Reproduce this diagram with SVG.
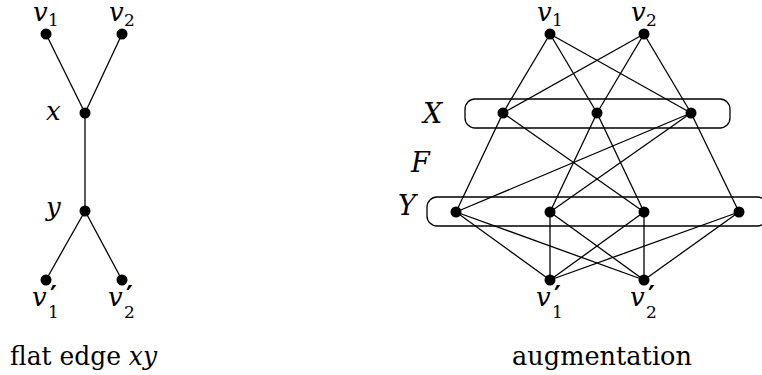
<svg xmlns="http://www.w3.org/2000/svg" width="762" height="375" viewBox="0 0 762 375">
<style>
.e{stroke:#000;stroke-width:1.3;fill:none}
.n{fill:#000}
.box{fill:none;stroke:#000;stroke-width:1.3}
.m{font-family:'DejaVu Serif',serif;font-style:italic;font-size:26px}
.s{font-family:'DejaVu Serif',serif;font-size:17px}
.p{font-family:'DejaVu Sans',sans-serif;font-size:26px;font-weight:bold}
.c{font-family:'DejaVu Serif',serif;font-style:italic;font-size:27px}
.cap{font-family:'DejaVu Serif',serif;font-size:26px}
</style>
<rect width="762" height="375" fill="#fff"/>
<g id="sets">
<rect class="box" x="465" y="99" width="265" height="29" rx="10"/>
<rect class="box" x="427" y="197" width="340" height="29" rx="10"/>
</g>
<g id="connectors">
<line class="e" x1="46" y1="34" x2="85" y2="113"/>
<line class="e" x1="122" y1="34" x2="85" y2="113"/>
<line class="e" x1="85" y1="113" x2="85" y2="211"/>
<line class="e" x1="85" y1="211" x2="46" y2="280"/>
<line class="e" x1="85" y1="211" x2="122" y2="280"/>
<line class="e" x1="550" y1="34" x2="503" y2="113"/>
<line class="e" x1="550" y1="34" x2="597" y2="113"/>
<line class="e" x1="550" y1="34" x2="691" y2="113"/>
<line class="e" x1="644" y1="34" x2="503" y2="113"/>
<line class="e" x1="644" y1="34" x2="597" y2="113"/>
<line class="e" x1="644" y1="34" x2="691" y2="113"/>
<line class="e" x1="503" y1="113" x2="456" y2="212"/>
<line class="e" x1="503" y1="113" x2="644" y2="212"/>
<line class="e" x1="597" y1="113" x2="550" y2="212"/>
<line class="e" x1="597" y1="113" x2="644" y2="212"/>
<line class="e" x1="691" y1="113" x2="456" y2="212"/>
<line class="e" x1="691" y1="113" x2="550" y2="212"/>
<line class="e" x1="691" y1="113" x2="739" y2="212"/>
<line class="e" x1="456" y1="212" x2="550" y2="280"/>
<line class="e" x1="456" y1="212" x2="644" y2="280"/>
<line class="e" x1="550" y1="212" x2="550" y2="280"/>
<line class="e" x1="550" y1="212" x2="644" y2="280"/>
<line class="e" x1="644" y1="212" x2="550" y2="280"/>
<line class="e" x1="644" y1="212" x2="644" y2="280"/>
<line class="e" x1="739" y1="212" x2="550" y2="280"/>
<line class="e" x1="739" y1="212" x2="644" y2="280"/>
</g>
<g id="L-v1"><circle class="n" cx="46" cy="34" r="5.5"/><text class="m" x="33" y="21">v</text><text class="s" x="48" y="26">1</text></g>
<g id="L-v2"><circle class="n" cx="122" cy="34" r="5.5"/><text class="m" x="109" y="21">v</text><text class="s" x="124" y="26">2</text></g>
<g id="L-x"><circle class="n" cx="85" cy="113" r="5.5"/><text class="m" x="46" y="120">x</text></g>
<g id="L-y"><circle class="n" cx="85" cy="211" r="5.5"/><text class="m" x="46" y="216">y</text></g>
<g id="L-v1p"><circle class="n" cx="46" cy="280" r="5.5"/><text class="m" x="32" y="306">v</text><text class="p" x="50" y="305">′</text><text class="s" x="48" y="318">1</text></g>
<g id="L-v2p"><circle class="n" cx="122" cy="280" r="5.5"/><text class="m" x="108" y="306">v</text><text class="p" x="126" y="305">′</text><text class="s" x="124" y="318">2</text></g>
<g id="R-v1"><circle class="n" cx="550" cy="34" r="5.5"/><text class="m" x="537" y="21">v</text><text class="s" x="552" y="26">1</text></g>
<g id="R-v2"><circle class="n" cx="644" cy="34" r="5.5"/><text class="m" x="631" y="21">v</text><text class="s" x="646" y="26">2</text></g>
<g id="X1"><circle class="n" cx="503" cy="113" r="5.5"/></g>
<g id="X2"><circle class="n" cx="597" cy="113" r="5.5"/></g>
<g id="X3"><circle class="n" cx="691" cy="113" r="5.5"/></g>
<g id="Y1"><circle class="n" cx="456" cy="212" r="5.5"/></g>
<g id="Y2"><circle class="n" cx="550" cy="212" r="5.5"/></g>
<g id="Y3"><circle class="n" cx="644" cy="212" r="5.5"/></g>
<g id="Y4"><circle class="n" cx="739" cy="212" r="5.5"/></g>
<g id="R-v1p"><circle class="n" cx="550" cy="280" r="5.5"/><text class="m" x="536" y="306">v</text><text class="p" x="554" y="305">′</text><text class="s" x="552" y="318">1</text></g>
<g id="R-v2p"><circle class="n" cx="644" cy="280" r="5.5"/><text class="m" x="630" y="306">v</text><text class="p" x="648" y="305">′</text><text class="s" x="646" y="318">2</text></g>
<g id="labels">
<text class="c" x="423" y="123">X</text>
<text class="c" x="411" y="172">F</text>
<text class="c" x="398" y="215">Y</text>
<text class="cap" x="10" y="365" textLength="147" lengthAdjust="spacingAndGlyphs">flat edge <tspan font-style="italic">xy</tspan></text>
<text class="cap" x="512" y="365" textLength="180" lengthAdjust="spacingAndGlyphs">augmentation</text>
</g>
</svg>
